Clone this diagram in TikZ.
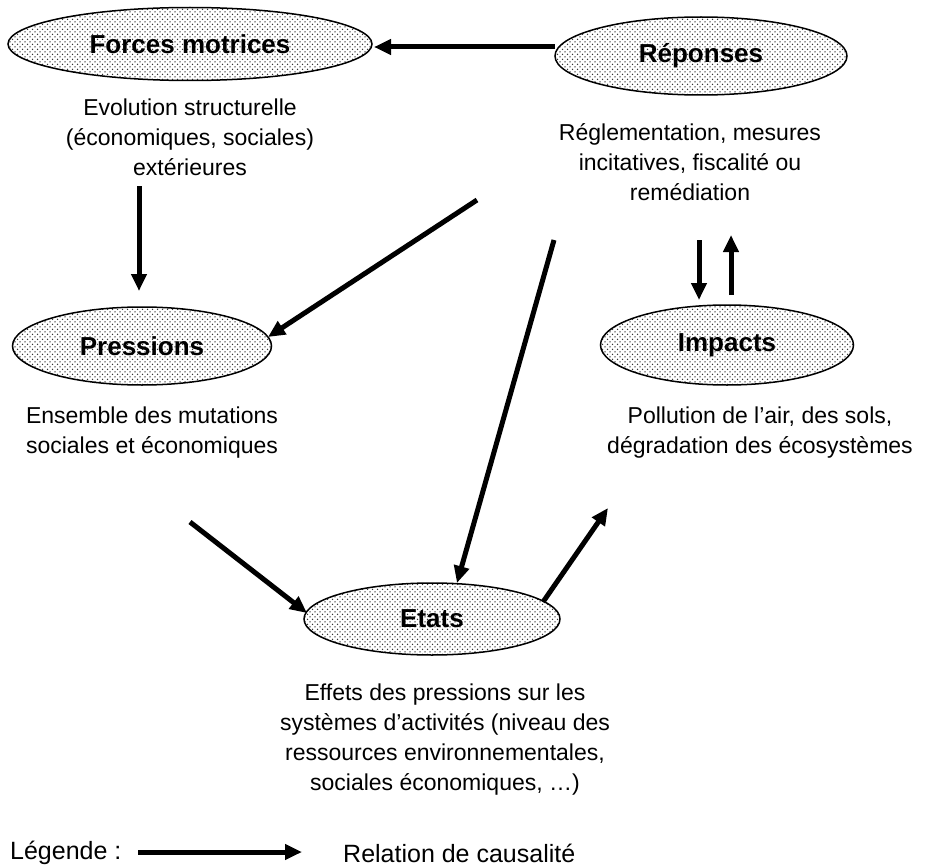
\documentclass[tikz,border=0pt]{standalone}
\usepackage{fontspec}
\setmainfont{Liberation Sans}
\usetikzlibrary{shapes.geometric,patterns.meta,arrows.meta}
\pgfdeclarepattern{
  name=bigdots, type=uncolored,
  bottom left={\pgfpoint{-1pt}{-1pt}},
  top right={\pgfpoint{6pt}{6pt}},
  tile size={\pgfpoint{5pt}{5pt}},
  code={
    \pgfpathcircle{\pgfpoint{0pt}{0pt}}{0.75pt}
    \pgfpathcircle{\pgfpoint{2.5pt}{2.5pt}}{0.75pt}
    \pgfusepath{fill}
  }
}
\begin{document}
\begin{tikzpicture}[x=1pt,y=-1pt,
  blob/.style={ellipse, draw=black, line width=1.5pt, pattern=bigdots, pattern color=black!80,
    inner sep=0pt, font=\fontsize{26}{30}\selectfont\bfseries},
  txt/.style={align=center, font=\fontsize{23}{30}\selectfont, inner sep=0pt},
  legtxt/.style={anchor=west, font=\fontsize{25}{30}\selectfont, inner sep=0pt},
  arr/.style={line width=5pt, -{Triangle[length=17pt,width=15pt]}}]
\useasboundingbox (0,0) rectangle (930,867);

% ellipses
\node[blob, minimum width=364pt, minimum height=73pt] (forces) at (190,44) {Forces motrices};
\node[blob, minimum width=292pt, minimum height=78pt] (reponses) at (701,56) {Réponses};
\node[blob, minimum width=259pt, minimum height=78pt] (pressions) at (142,346) {Pressions};
\node[blob, minimum width=253pt, minimum height=80pt] (impacts) at (727,345) {Impacts};
\node[blob, minimum width=256pt, minimum height=72pt] (etats) at (432,619) {Etats};

% texts
\node[txt] (forcesTxt) at (190,137) {Evolution structurelle\\(économiques, sociales)\\extérieures};
\node[txt] (reponsesTxt) at (690,162) {Réglementation, mesures\\incitatives, fiscalité ou\\remédiation};
\node[txt] (pressionsTxt) at (152,433) {Ensemble des mutations\\sociales et économiques};
\node[txt] (impactsTxt) at (760,433) {Pollution de l’air, des sols,\\dégradation des écosystèmes};
\node[txt] (etatsTxt) at (445,740) {Effets des pressions sur les\\systèmes d’activités (niveau des\\ressources environnementales,\\sociales économiques, …)};

% legend
\node[legtxt] (legende) at (10,853) {Légende :};
\node[legtxt] (relation) at (343,853) {Relation de causalité};

% connector end points
\coordinate (a1s) at (555,47);
\coordinate (a1e) at (374,47);
\coordinate (a2s) at (139,186);
\coordinate (a2e) at (139,291);
\coordinate (a3s) at (477,200);
\coordinate (a3e) at (268,337);
\coordinate (a4s) at (554,240);
\coordinate (a4e) at (457,583);
\coordinate (a5s) at (190,522);
\coordinate (a5e) at (307,613);
\coordinate (a6s) at (543,602);
\coordinate (a6e) at (608,508);
\coordinate (a7s) at (699,240);
\coordinate (a7e) at (699,300);
\coordinate (a8s) at (731,295);
\coordinate (a8e) at (731,235);
\coordinate (l1s) at (138,852);
\coordinate (l1e) at (302,852);

% connectors
\draw[arr] (a1s) -- (a1e);
\draw[arr] (a2s) -- (a2e);
\draw[arr] (a3s) -- (a3e);
\draw[arr] (a4s) -- (a4e);
\draw[arr] (a5s) -- (a5e);
\draw[arr] (a6s) -- (a6e);
\draw[arr] (a7s) -- (a7e);
\draw[arr] (a8s) -- (a8e);
\draw[arr] (l1s) -- (l1e);
\end{tikzpicture}
\end{document}
